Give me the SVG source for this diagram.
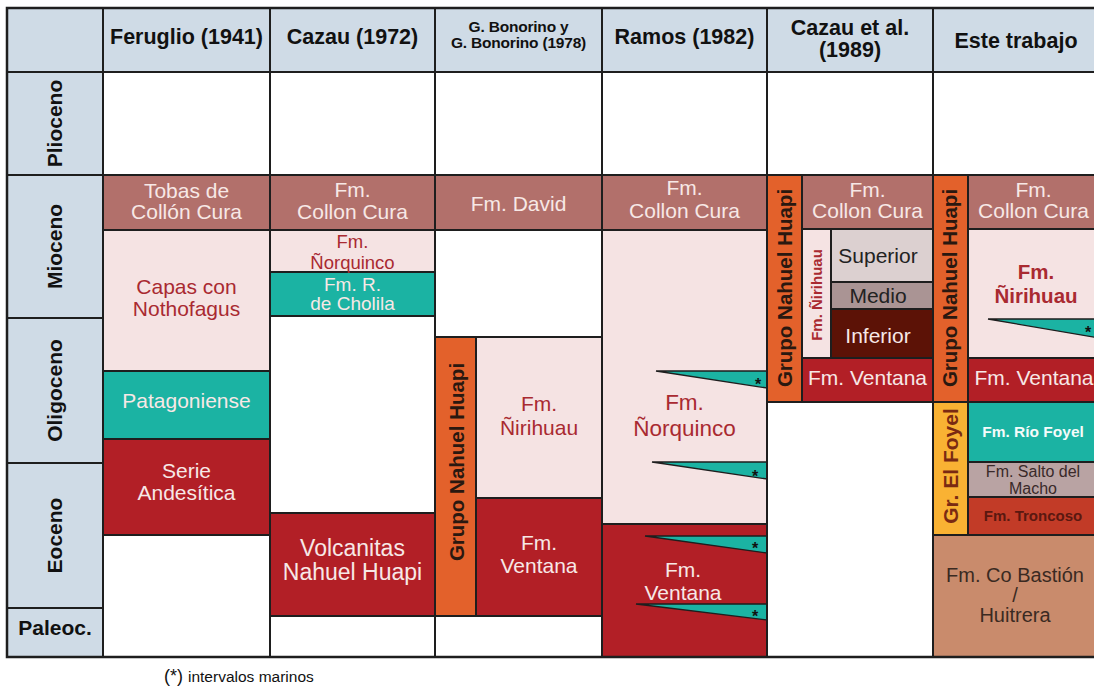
<svg xmlns="http://www.w3.org/2000/svg" width="1094" height="690" viewBox="0 0 1094 690">
<style>
text{font-family:"Liberation Sans",Arial,Helvetica,sans-serif}
.cell{stroke:#1e1e1e;stroke-width:2}
.ln{stroke:#1e1e1e;stroke-width:2;fill:none}
.hb{fill:#cfdbe6}
.cc{fill:#b2706b}
.pk{fill:#f5e3e3}
.tl{fill:#1bb3a3}
.dr{fill:#b21f26}
.or{fill:#e3612b}
.yl{fill:#f9b233}
.hd{font-weight:bold;font-size:21.5px;fill:#111;text-anchor:middle}
.age{font-weight:bold;font-size:21px;fill:#111;text-anchor:middle}
.t{font-size:21px;text-anchor:middle}
.lt{fill:#f7e8e6}
.rd{fill:#a92a31}
.dk{fill:#222}
.vb{font-weight:bold;font-size:20.5px;fill:#2a1810;text-anchor:middle}
.wg{fill:#1bb3a3;stroke:#1e1e1e;stroke-width:1.3;stroke-linejoin:miter}
.st{font-weight:bold;font-size:16px;fill:#111;text-anchor:middle}
</style>

<g id="table">
  <rect x="7" y="8" width="1092" height="649" fill="#ffffff"/>
  <rect class="hb" x="7" y="8" width="1092" height="64"/>
  <rect class="hb" x="7" y="72" width="96" height="585"/>
</g>

<g id="headers">
  <text class="hd" x="186.5" y="44">Feruglio (1941)</text>
  <text class="hd" x="352.5" y="44">Cazau (1972)</text>
  <text style="font-weight:bold;font-size:15.5px;fill:#111;text-anchor:middle;letter-spacing:-0.2px" x="518.5" y="32"><tspan x="518.5">G. Bonorino y</tspan><tspan x="518.5" y="48">G. Bonorino (1978)</tspan></text>
  <text class="hd" x="684.5" y="44">Ramos (1982)</text>
  <text class="hd" x="850" y="35"><tspan x="850">Cazau et al.</tspan><tspan x="850" y="57">(1989)</tspan></text>
  <text class="hd" x="1016" y="48">Este trabajo</text>
</g>

<g id="ages">
  <text class="age" transform="translate(62,123.5) rotate(-90)">Plioceno</text>
  <text class="age" transform="translate(62,246.5) rotate(-90)">Mioceno</text>
  <text class="age" transform="translate(62,390.5) rotate(-90)">Oligoceno</text>
  <text class="age" transform="translate(62,535.5) rotate(-90)">Eoceno</text>
  <text class="age" x="55" y="635">Paleoc.</text>
</g>

<g id="feruglio">
  <rect class="cell cc" x="103" y="175" width="167" height="55"/>
  <rect class="cell pk" x="103" y="230" width="167" height="141"/>
  <rect class="cell tl" x="103" y="371" width="167" height="68"/>
  <rect class="cell dr" x="103" y="439" width="167" height="96"/>
  <text class="t lt" x="186.5" y="198"><tspan x="186.5">Tobas de</tspan><tspan x="186.5" y="219">Collón Cura</tspan></text>
  <text class="t rd" x="186.5" y="294"><tspan x="186.5">Capas con</tspan><tspan x="186.5" y="316">Nothofagus</tspan></text>
  <text class="t lt" x="186.5" y="408">Patagoniense</text>
  <text class="t lt" x="186.5" y="478"><tspan x="186.5">Serie</tspan><tspan x="186.5" y="500">Andesítica</tspan></text>
</g>

<g id="cazau1972">
  <rect class="cell cc" x="270" y="175" width="165" height="55"/>
  <rect class="cell pk" x="270" y="230" width="165" height="42"/>
  <rect class="cell tl" x="270" y="272" width="165" height="44"/>
  <rect class="cell dr" x="270" y="513" width="165" height="103"/>
  <text class="t lt" x="352.5" y="197"><tspan x="352.5">Fm.</tspan><tspan x="352.5" y="219">Collon Cura</tspan></text>
  <text class="t rd" style="font-size:18.5px" x="352.5" y="248"><tspan x="352.5">Fm.</tspan><tspan x="352.5" y="269">Ñorquinco</tspan></text>
  <text class="t lt" style="font-size:19px" x="352.5" y="291"><tspan x="352.5">Fm. R.</tspan><tspan x="352.5" y="310">de Cholila</tspan></text>
  <text class="t lt" style="font-size:23px" x="352.5" y="556"><tspan x="352.5">Volcanitas</tspan><tspan x="352.5" y="580">Nahuel Huapi</tspan></text>
</g>

<g id="bonorino">
  <rect class="cell cc" x="435" y="175" width="167" height="55"/>
  <rect class="cell or" x="435" y="337" width="41" height="279"/>
  <rect class="cell pk" x="476" y="337" width="126" height="161"/>
  <rect class="cell dr" x="476" y="498" width="126" height="118"/>
  <text class="t lt" x="518.5" y="211">Fm. David</text>
  <text class="vb" transform="translate(464,462) rotate(-90)">Grupo Nahuel Huapi</text>
  <text class="t rd" x="539" y="411"><tspan x="539">Fm.</tspan><tspan x="539" y="435">Ñirihuau</tspan></text>
  <text class="t lt" x="539" y="550"><tspan x="539">Fm.</tspan><tspan x="539" y="573">Ventana</tspan></text>
</g>

<g id="ramos">
  <rect class="cell cc" x="602" y="175" width="165" height="55"/>
  <rect class="cell pk" x="602" y="230" width="165" height="294"/>
  <rect class="cell dr" x="602" y="524" width="165" height="133"/>
  <text class="t lt" x="684.5" y="195"><tspan x="684.5">Fm.</tspan><tspan x="684.5" y="218">Collon Cura</tspan></text>
  <text class="t rd" style="font-size:22.5px" x="684.5" y="410"><tspan x="684.5">Fm.</tspan><tspan x="684.5" y="436">Ñorquinco</tspan></text>
  <text class="t lt" x="683" y="577"><tspan x="683">Fm.</tspan><tspan x="683" y="600">Ventana</tspan></text>
</g>

<g id="cazau1989">
  <rect class="cell or" x="767" y="175" width="35" height="227"/>
  <rect class="cell cc" x="802" y="175" width="131" height="54"/>
  <rect class="cell pk" x="802" y="229" width="29" height="129"/>
  <rect class="cell" fill="#dcd0d0" x="831" y="229" width="102" height="53"/>
  <rect class="cell" fill="#aa9494" x="831" y="282" width="102" height="27"/>
  <rect class="cell" fill="#5c1206" x="831" y="309" width="102" height="49"/>
  <rect class="cell dr" x="802" y="358" width="131" height="44"/>
  <text class="vb" transform="translate(792,288) rotate(-90)">Grupo Nahuel Huapi</text>
  <text class="t lt" x="867.5" y="197"><tspan x="867.5">Fm.</tspan><tspan x="867.5" y="218">Collon Cura</tspan></text>
  <text style="font-weight:bold;font-size:15px;fill:#a92a31;text-anchor:middle" transform="translate(822,295) rotate(-90)">Fm. Ñirihuau</text>
  <text class="t dk" x="878" y="263">Superior</text>
  <text class="t dk" x="878" y="303">Medio</text>
  <text class="t lt" x="878" y="343">Inferior</text>
  <text class="t lt" x="867.5" y="385">Fm. Ventana</text>
</g>

<g id="este">
  <rect class="cell or" x="933" y="175" width="35" height="227"/>
  <rect class="cell cc" x="968" y="175" width="131" height="54"/>
  <rect class="cell pk" x="968" y="229" width="131" height="129"/>
  <rect class="cell dr" x="968" y="358" width="131" height="44"/>
  <rect class="cell yl" x="933" y="402" width="35" height="133"/>
  <rect class="cell tl" x="968" y="402" width="131" height="60"/>
  <rect class="cell" fill="#b9a3a3" x="968" y="462" width="131" height="35"/>
  <rect class="cell" fill="#c23b27" x="968" y="497" width="131" height="38"/>
  <rect class="cell" fill="#c98b6c" x="933" y="535" width="166" height="122"/>
  <text class="vb" transform="translate(957,288) rotate(-90)">Grupo Nahuel Huapi</text>
  <text class="t lt" x="1033.5" y="197"><tspan x="1033.5">Fm.</tspan><tspan x="1033.5" y="218">Collon Cura</tspan></text>
  <text class="t rd" style="font-weight:bold;font-size:20.5px" x="1036" y="279"><tspan x="1036">Fm.</tspan><tspan x="1036" y="303">Ñirihuau</tspan></text>
  <text class="t lt" x="1034" y="385">Fm. Ventana</text>
  <text style="font-weight:bold;font-size:21px;fill:#7a2a12;text-anchor:middle" transform="translate(958,466) rotate(-90)">Gr. El Foyel</text>
  <text style="font-weight:bold;font-size:15.5px;fill:#f4fbfa;text-anchor:middle" x="1033" y="437">Fm. Río Foyel</text>
  <text style="font-size:16px;fill:#3a2a2a;text-anchor:middle" x="1033" y="477"><tspan x="1033">Fm. Salto del</tspan><tspan x="1033" y="494">Macho</tspan></text>
  <text style="font-weight:bold;font-size:15px;fill:#5a1810;text-anchor:middle" x="1033" y="521">Fm. Troncoso</text>
  <text style="font-size:20px;fill:#3a2a22;text-anchor:middle" x="1015" y="582"><tspan x="1015">Fm. Co Bastión</tspan><tspan x="1015" y="602">/</tspan><tspan x="1015" y="622">Huitrera</tspan></text>
</g>

<g id="wedges">
  <polygon class="wg" points="656,371 767,371 767,388"/>
  <polygon class="wg" points="652,462 767,462 767,479"/>
  <polygon class="wg" points="645,536 767,536 767,553"/>
  <polygon class="wg" points="636,604 767,604 767,620"/>
  <polygon class="wg" points="988,319 1099,319 1099,338"/>
  <text class="st" x="758" y="390">*</text>
  <text class="st" x="755" y="482">*</text>
  <text class="st" x="755" y="554">*</text>
  <text class="st" x="755" y="622">*</text>
  <text class="st" x="1088" y="338">*</text>
</g>

<g id="grid">
  <line class="ln" x1="7" y1="72" x2="1099" y2="72"/>
  <line class="ln" x1="7" y1="175" x2="1099" y2="175"/>
  <line class="ln" x1="7" y1="318" x2="103" y2="318"/>
  <line class="ln" x1="7" y1="463" x2="103" y2="463"/>
  <line class="ln" x1="7" y1="608" x2="103" y2="608"/>
  <line class="ln" x1="435" y1="337" x2="602" y2="337"/>
  <line class="ln" x1="270" y1="316" x2="435" y2="316"/>
  <line class="ln" x1="103" y1="8" x2="103" y2="657"/>
  <line class="ln" x1="270" y1="8" x2="270" y2="657"/>
  <line class="ln" x1="435" y1="8" x2="435" y2="657"/>
  <line class="ln" x1="602" y1="8" x2="602" y2="657"/>
  <line class="ln" x1="767" y1="8" x2="767" y2="657"/>
  <line class="ln" x1="933" y1="8" x2="933" y2="657"/>
  <rect x="7" y="8" width="1092" height="649" fill="none" stroke="#1e1e1e" stroke-width="2.5"/>
</g>

<g id="note">
  <text style="font-size:18px;fill:#111" x="164" y="682">(*)</text>
  <text style="font-size:15.5px;fill:#111" x="188" y="682">intervalos marinos</text>
</g>
</svg>
